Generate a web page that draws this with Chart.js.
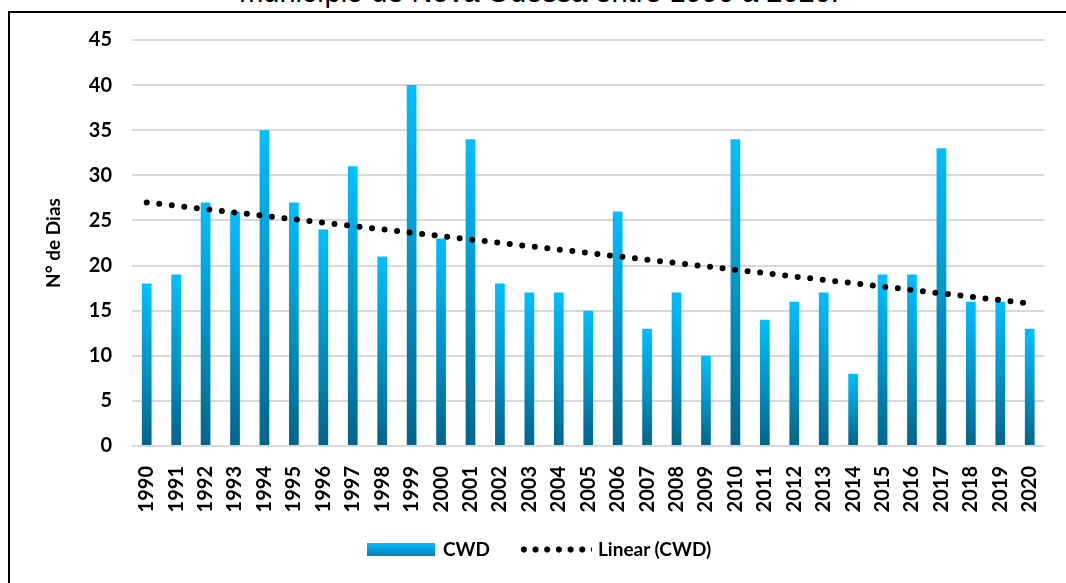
<!DOCTYPE html>
<html>
<head>
<meta charset="utf-8">
<script src="https://cdn.jsdelivr.net/npm/chart.js@4.4.1/dist/chart.umd.min.js"></script>
<style>
  body { margin: 0; background: #fff; width: 1066px; height: 583px; overflow: hidden; position: relative; }
  .title { position: absolute; left: 0; width: 1078px; top: -22px; text-align: center;
           font: 29px/29px "Liberation Sans", Arial, sans-serif; color: #000; white-space: nowrap; }
  .frame { position: absolute; left: 8px; top: 11px; width: 1070px; height: 600px;
           border: 2.5px solid #000; box-sizing: border-box; }
  .wrap { position: absolute; left: 10px; top: 12px; width: 1056px; height: 571px; }
  .leg { position: absolute; font: bold 19px Lato, sans-serif; color: #000; line-height: 20px; }
  .swatch { position: absolute; left: 367px; top: 543px; width: 68px; height: 13px;
            background: linear-gradient(#00bfff, #0080b8); }
  .dots { position: absolute; left: 518px; top: 546px; width: 74px; height: 7px;
          background: radial-gradient(circle, #000 2.8px, transparent 3.4px) 0 0 / 11.7px 7px repeat-x; }
</style>
</head>
<body>
<div class="title">município de Nova Odessa entre 1990 a 2020.</div>
<div class="frame"></div>
<div class="wrap"><canvas id="cwdChart"></canvas></div>
<div class="swatch"></div>
<div class="leg" style="left:443px; top:539px;">CWD</div>
<div class="dots"></div>
<div class="leg" style="left:598px; top:539px;">Linear (CWD)</div>
<script>
// anos
const years = ["1990","1991","1992","1993","1994","1995","1996","1997","1998","1999","2000",
  "2001","2002","2003","2004","2005","2006","2007","2008","2009","2010",
  "2011","2012","2013","2014","2015","2016","2017","2018","2019","2020"];

// CWD (dias consecutivos úmidos)
const cwd = [18, 19, 27, 26, 35, 27, 24, 31, 21, 40, 23,
  34, 18, 17, 17, 15, 26, 13, 17, 10, 34,
  14, 16, 17, 8, 19, 19, 33, 16, 16, 13];

const trend = [27.0, null, null, null, null, null, null, null, null, null, null,
  null, null, null, null, null, null, null, null, null, null,
  null, null, null, null, null, null, null, null, null, 15.8];

const yTicks = [0, 5, 10, 15, 20, 25, 30, 35, 40, 45];

const tickFont = { family: "Lato", weight: "bold", size: 20 };

function barGradient(c) {
  const chart = c.chart;
  const y = chart.scales.y;
  if (c.type !== "data" || !y) return "#00a8e0";
  const top = y.getPixelForValue(c.raw);
  const bottom = y.getPixelForValue(0);
  if (!isFinite(top) || !isFinite(bottom) || top === bottom) return "#00a8e0";
  const g = chart.ctx.createLinearGradient(0, top, 0, bottom);
  g.addColorStop(0, "#00bfff");
  g.addColorStop(0.5, "#0095c8");
  g.addColorStop(1, "#00648c");
  return g;
}

new Chart(document.getElementById("cwdChart"), {
  data: {
    labels: years,
    datasets: [
      {
        type: "line",
        label: "Linear (CWD)",
        data: trend,
        spanGaps: true,
        borderColor: "#000",
        borderWidth: 6,
        borderDash: [0, 12.6],
        borderCapStyle: "round",
        pointRadius: 0,
        fill: false,
        order: 0,
      },
      {
        type: "bar",
        label: "CWD",
        data: cwd,
        backgroundColor: barGradient,
        barPercentage: 0.33,
        categoryPercentage: 1,
        order: 1,
      },
    ],
  },
  options: {
    responsive: true,
    maintainAspectRatio: false,
    animation: false,
    events: [],
    layout: { padding: { left: 0, right: 17, top: 28, bottom: 0 } },
    plugins: { legend: { display: false }, tooltip: { enabled: false } },
    scales: {
      x: {
        grid: { display: false },
        border: { display: false },
        ticks: { font: tickFont, color: "#000", minRotation: 90, maxRotation: 90, padding: 12, autoSkip: false },
        afterFit: (s) => { s.height = 137; },
      },
      y: {
        min: 0,
        max: 45,
        afterBuildTicks: (s) => { s.ticks = yTicks.map((v) => ({ value: v })); },
        grid: { color: "#d9d9d9", lineWidth: 2, drawTicks: false },
        border: { display: false },
        ticks: { font: tickFont, color: "#000", padding: 20 },
        title: {
          display: true,
          text: "N° de Dias",
          color: "#000",
          font: { family: "Lato", weight: "bold", size: 19 },
          padding: { top: 32, bottom: 0 },
        },
        afterFit: (s) => {
          s.width = 122;
          s.paddingTop = 0;
          s.paddingBottom = 0;
        },
      },
    },
  },
});
</script>
</body>
</html>
